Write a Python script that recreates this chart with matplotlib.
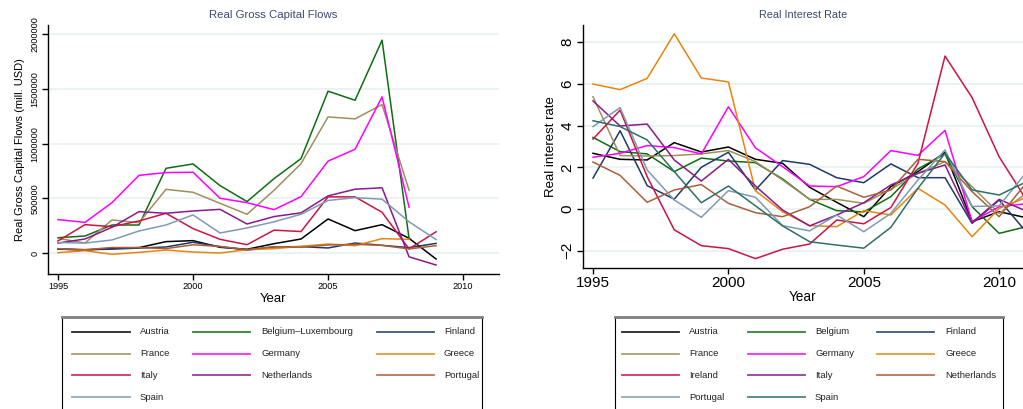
import matplotlib
matplotlib.use("Agg")
import matplotlib.pyplot as plt
import numpy as np

nan = np.nan

# Data
#---------------------------
years_flows = list(range(1995, 2010))
flows_countries = ["Austria", "Belgium\u2013Luxembourg", "Finland", "France", "Germany",
                   "Greece", "Italy", "Netherlands", "Portugal", "Spain"]
# thousands of mill. USD
flows_austria = [37, 27, 43, 49, 104, 113, 52, 34, 85, 128, 311, 204, 259, 134, -55]
flows_belgium = [140, 155, 256, 256, 774, 814, 616, 470, 680, 863, 1479, 1396, 1945, 131, nan]
flows_finland = [35, 30, 35, 45, 55, 98, 58, 27, 55, 58, 46, 91, 70, 49, 88]
flows_france = [134, 91, 302, 277, 582, 555, 454, 354, 573, 817, 1244, 1226, 1357, 573, nan]
flows_germany = [305, 280, 460, 710, 735, 738, 500, 460, 396, 515, 840, 948, 1427, 419, nan]
flows_greece = [3, 21, -12, 6, 27, 9, 0, 30, 40, 61, 82, 67, 131, 125, nan]
flows_italy = [110, 259, 241, 293, 363, 223, 125, 76, 209, 196, 513, 513, 372, 37, 194]
flows_netherlands = [91, 128, 235, 378, 363, 384, 399, 265, 333, 367, 522, 583, 596, -35, -110]
flows_portugal = [40, 30, 50, 50, 40, 75, 60, 30, 58, 52, 73, 79, 70, 37, 67]
flows_spain = [95, 91, 119, 201, 256, 348, 183, 229, 285, 354, 480, 506, 492, 285, 123]
flows_series = [flows_austria, flows_belgium, flows_finland, flows_france, flows_germany,
                flows_greece, flows_italy, flows_netherlands, flows_portugal, flows_spain]

years_rate = list(range(1995, 2012))
rate_countries = ["Austria", "Belgium", "Finland", "France", "Germany", "Greece",
                  "Ireland", "Italy", "Netherlands", "Portugal", "Spain"]
rate_austria = [2.67, 2.38, 2.35, 3.18, 2.73, 2.97, 2.38, 2.19, 1.04, 0.32, -0.37, 1.07, 1.79, 2.72, -0.61, -0.13, -0.42]
rate_belgium = [3.43, 2.75, 2.64, 1.79, 2.44, 2.30, 2.22, 1.44, 0.46, -0.08, -0.14, 0.59, 1.92, 2.64, 0.11, -1.17, -0.85]
rate_finland = [1.48, 3.75, 1.12, 0.47, 2.0, 2.72, 0.91, 2.32, 2.14, 1.5, 1.26, 2.16, 1.5, 1.5, -0.69, 0.43, -1.1]
rate_france = [5.38, 2.56, 2.54, 2.56, 2.64, 2.80, 2.27, 1.39, 0.46, 0.46, 0.27, 0.94, 1.71, 2.27, 1.07, -0.21, 0.75]
rate_germany = [2.48, 2.67, 3.04, 2.94, 2.64, 4.90, 2.93, 2.03, 1.10, 1.07, 1.55, 2.80, 2.57, 3.77, -0.61, 0.11, 0.25]
rate_greece = [5.99, 5.72, 6.26, 8.40, 6.28, 6.09, 0.87, -0.13, -0.80, -0.85, -0.08, -0.29, 0.99, 0.19, -1.33, 0.03, 0.55]
rate_ireland = [3.35, 4.74, 1.55, -1.0, -1.76, -1.90, -2.38, -1.93, -1.68, -0.53, -0.71, 0.07, 2.19, 7.33, 5.34, 2.5, 0.45]
rate_italy = [5.18, 3.98, 4.07, 2.35, 1.34, 2.38, 1.10, -0.05, -0.81, -0.29, 0.30, 1.15, 1.71, 2.11, -0.65, 0.46, -0.1]
rate_netherlands = [2.25, 1.61, 0.32, 0.91, 1.17, 0.27, -0.18, -0.37, 0.11, 1.10, 0.56, 0.91, 2.38, 2.27, 0.83, -0.37, 1.25]
rate_portugal = [3.95, 4.86, 1.87, 0.43, -0.40, 0.88, 0.56, -0.80, -1.05, -0.29, -1.09, -0.21, 1.39, 2.83, 0.12, 0.15, 1.75]
rate_spain = [4.23, 3.95, 3.31, 1.79, 0.30, 1.10, 0.15, -0.81, -1.57, -1.73, -1.88, -0.88, 0.99, 2.67, 0.91, 0.67, 1.3]
rate_series = [rate_austria, rate_belgium, rate_finland, rate_france, rate_germany, rate_greece,
               rate_ireland, rate_italy, rate_netherlands, rate_portugal, rate_spain]

# Stata-like line colours, in series order
colors = ["#000000", "#0e6e12", "#1f3a63", "#a08e5c", "#ff00ff", "#ea8410",
          "#cc1443", "#8a1a8a", "#a9603a", "#7f9ab4", "#2e6f66"]

title_color = "#3d4a70"
grid_color = "#e8f0f2"

W, H = 1023, 409
plt.rcParams["font.family"] = ["Liberation Sans", "DejaVu Sans"]
fig = plt.figure(figsize=(W / 100, H / 100), dpi=100)


def px_axes(x0, y_top, x1, y_bot):
    # axes from pixel box (top-left origin)
    return fig.add_axes([x0 / W, 1 - y_bot / H, (x1 - x0) / W, (y_bot - y_top) / H])


def style_axes(ax, tick_size):
    for s in ["top", "right"]:
        ax.spines[s].set_visible(False)
    for s in ["left", "bottom"]:
        ax.spines[s].set_linewidth(1.0)
    ax.yaxis.grid(True, color=grid_color, linewidth=1.2)
    ax.set_axisbelow(True)
    ax.tick_params(direction="out", length=4, width=1, labelsize=tick_size, pad=2)
    for lab in ax.get_yticklabels():
        lab.set_rotation(90)
        lab.set_va("center")


def draw_legend(x0, x1, names, line_x, text_x):
    # legend box, 3 columns filled row by row
    lg = px_axes(x0, 317, x1, 430)
    lg.set_xlim(x0, x1)
    lg.set_ylim(430, 317)
    lg.set_xticks([])
    lg.set_yticks([])
    lg.spines["top"].set_color("#808080")
    lg.spines["top"].set_linewidth(2)
    for s in ["left", "right", "bottom"]:
        lg.spines[s].set_linewidth(0.8)
    rows = [332, 353.5, 375, 397]
    for i, name in enumerate(names):
        r, c = divmod(i, 3)
        lg.plot(line_x[c], [rows[r], rows[r]], color=colors[i], lw=1.3, alpha=0.85)
        lg.text(text_x[c], rows[r], name, fontsize=6.8, va="center", ha="left", color="#222222",
                family=["Liberation Sans Narrow", "Liberation Sans", "DejaVu Sans"])


# Left panel: Real Gross Capital Flows
#---------------------------
ax1 = px_axes(48, 25, 499, 274)
for i, vals in enumerate(flows_series):
    ax1.plot(years_flows, np.array(vals, dtype=float) * 1000, color=colors[i], lw=1.1)
ax1.set_xlim(1994.63, 2011.33)
ax1.set_ylim(-192000, 2084000)
ax1.set_xticks([1995, 2000, 2005, 2010])
ax1.set_yticks([0, 500000, 1000000, 1500000, 2000000])
ax1.set_yticklabels(["0", "500000", "1000000", "1500000", "2000000"])
style_axes(ax1, 6.6)
ax1.set_title("Real Gross Capital Flows", fontsize=8.2, color=title_color, pad=5)
ax1.set_ylabel("Real Gross Capital Flows (mill. USD)", fontsize=8, labelpad=4)
ax1.set_xlabel("Year", fontsize=9.5, labelpad=1)

# Right panel: Real Interest Rate
#---------------------------
ax2 = px_axes(583, 25, 1023, 268)
for i, vals in enumerate(rate_series):
    ax2.plot(years_rate, vals, color=colors[i], lw=1.1)
ax2.set_xlim(1994.63, 2010.88)
ax2.set_ylim(-2.83, 8.82)
ax2.set_xticks([1995, 2000, 2005, 2010])
ax2.set_yticks([-2, 0, 2, 4, 6, 8])
ax2.set_yticklabels(["\u22122", "0", "2", "4", "6", "8"])
style_axes(ax2, 11)
ax2.set_title("Real Interest Rate", fontsize=7.8, color=title_color, pad=5)
ax2.set_ylabel("Real interest rate", fontsize=9.5, labelpad=3)
ax2.set_xlabel("Year", fontsize=9.8, labelpad=0)

# Legends
#---------------------------
draw_legend(62, 482, flows_countries,
            [[72, 130], [193, 250], [377, 434]], [140, 261, 444])
draw_legend(615, 1003, rate_countries,
            [[622, 679], [748, 805], [877, 934]], [689, 815, 945])

fig.savefig("out.png", dpi=100)
